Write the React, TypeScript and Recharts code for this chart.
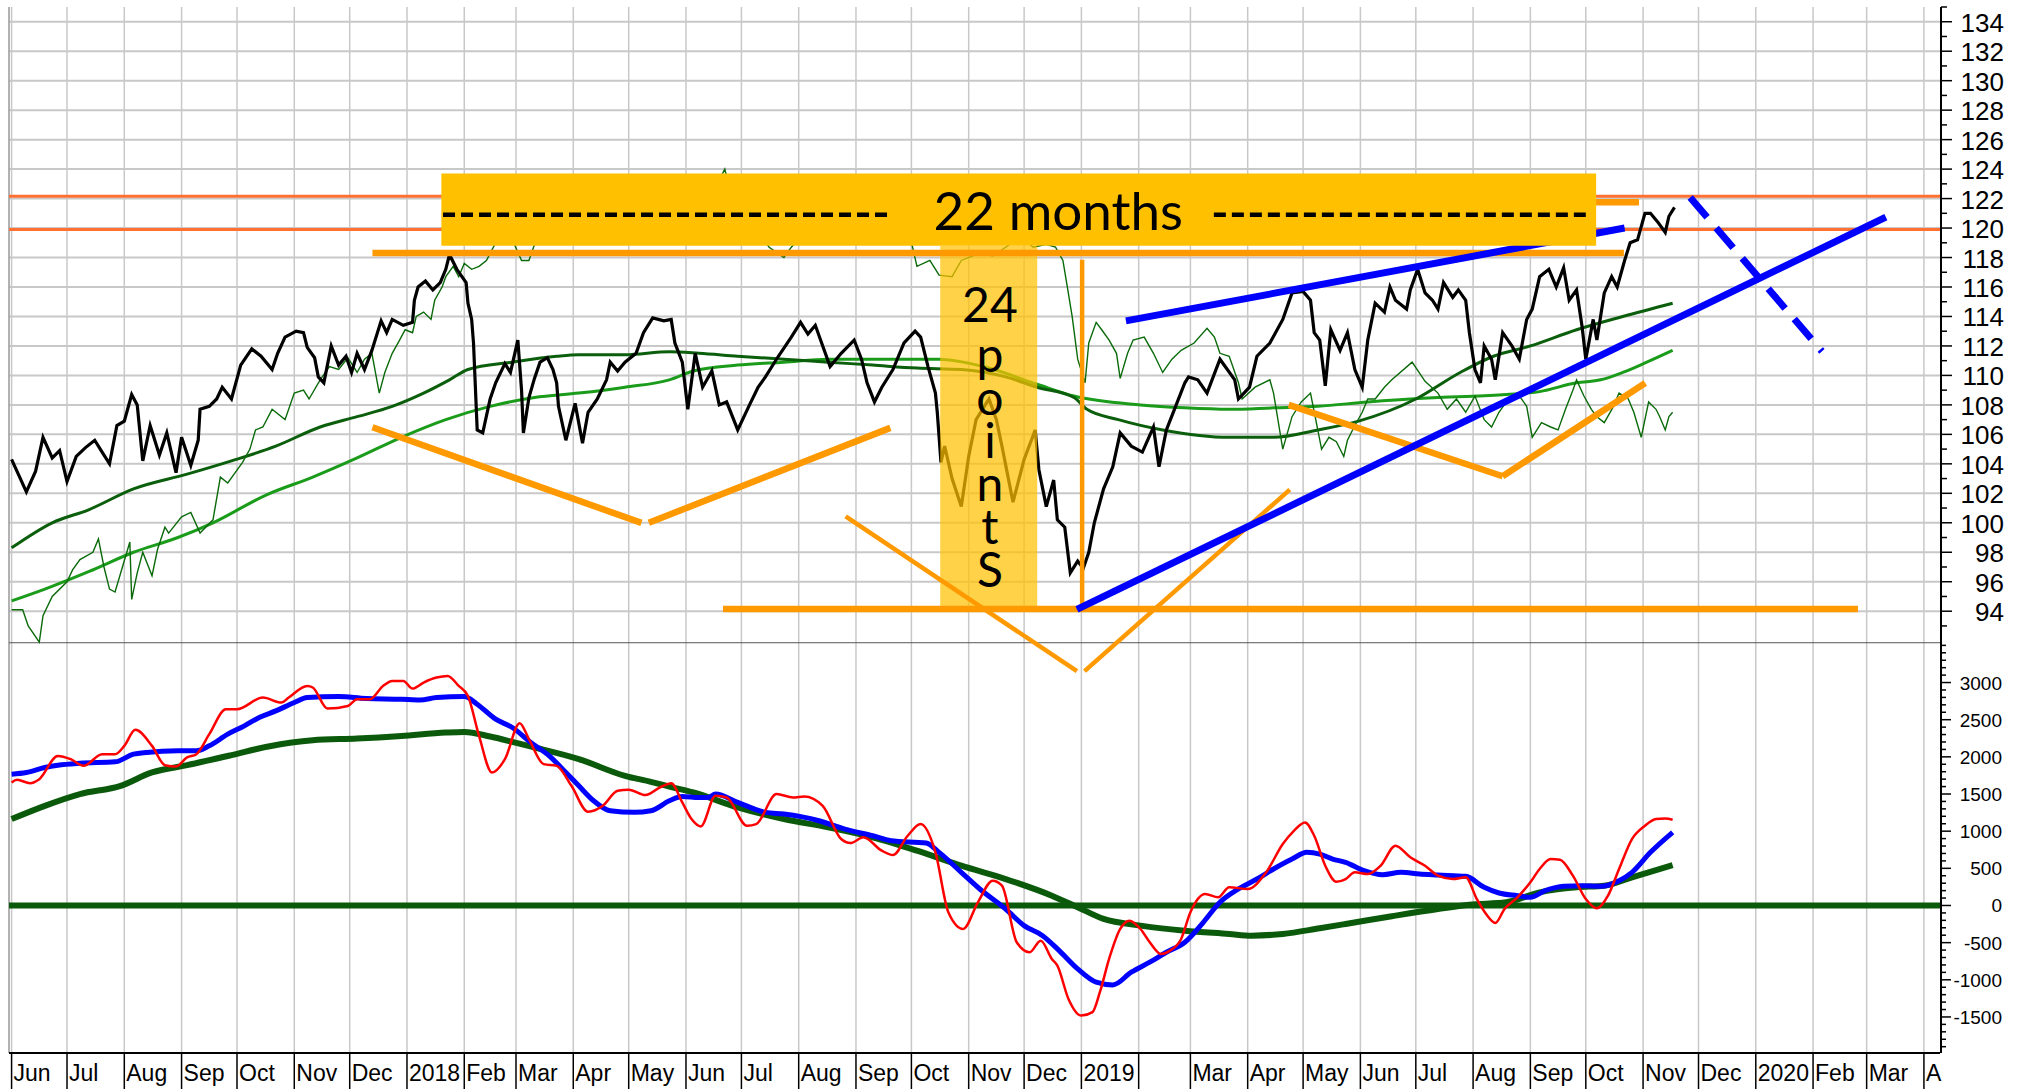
import { ComposedChart, Line, XAxis, YAxis, ReferenceLine, ReferenceArea, ReferenceDot } from 'recharts'

// x values are calendar days counted from 1 Jun 2017
const START = Date.UTC(2017, 5, 1)
const dayOf = (y: number, m: number) => (Date.UTC(y, m, 1) - START) / 86400000

const MONTH_LABELS = [
  'Jun', 'Jul', 'Aug', 'Sep', 'Oct', 'Nov', 'Dec',
  '2018', 'Feb', 'Mar', 'Apr', 'May', 'Jun', 'Jul', 'Aug', 'Sep', 'Oct', 'Nov', 'Dec',
  '2019', '', 'Mar', 'Apr', 'May', 'Jun', 'Jul', 'Aug', 'Sep', 'Oct', 'Nov', 'Dec',
  '2020', 'Feb', 'Mar', 'A',
]
const MONTH_TICKS = MONTH_LABELS.map((_, i) => dayOf(2017, 5 + i))
const WEEK_TICKS: number[] = []
for (let d = 4; d < 1043; d += 7) WEEK_TICKS.push(d)

const PRICE_TICKS: number[] = []
for (let v = 93; v <= 135; v++) PRICE_TICKS.push(v)
const OSC_TICKS: number[] = []
for (let v = -1900; v <= 3500; v += 100) OSC_TICKS.push(v)

const X_DOMAIN: [number, number] = [-1.4, 1043.7]
const PRICE_DOMAIN: [number, number] = [64.02, 135]
const OSC_DOMAIN: [number, number] = [-1985, 12090]

// daily closes (black)
const priceClose: [number, number][] = [
  [0, 104.3], [4, 103.2], [8, 102.1], [13, 103.5], [17, 105.8], [22, 104.4], [26, 104.9], [30, 102.8], [35, 104.5], [40, 105.1],
  [45, 105.6], [49, 104.8], [53, 104.0], [57, 106.6], [61, 106.9], [65, 108.7], [68, 108.0], [71, 104.2], [75, 106.6], [80, 104.6],
  [84, 106.1], [89, 103.4], [92, 105.8], [97, 103.9], [101, 105.6], [102, 107.7], [107, 107.9], [111, 108.4], [114, 109.2], [119, 108.4],
  [124, 110.7], [130, 111.8], [135, 111.3], [141, 110.4], [144, 111.5], [148, 112.6], [154, 113.0], [158, 112.9], [160, 111.9], [164, 111.2],
  [166, 109.9], [169, 109.5], [173, 112.0], [177, 110.7], [181, 111.3], [184, 110.2], [187, 111.5], [191, 110.4], [195, 111.7], [200, 113.7],
  [203, 112.9], [206, 113.8], [212, 113.4], [217, 113.6], [218, 115.1], [220, 116.0], [224, 116.4], [228, 115.8], [232, 116.3], [235, 117.2],
  [237, 118.2], [241, 117.2], [246, 116.3], [247, 114.9], [249, 113.8], [250, 112.2], [252, 106.3], [255, 106.1], [259, 108.4], [262, 109.5],
  [267, 110.8], [270, 110.2], [274, 112.4], [276, 109.0], [277, 106.1], [280, 108.5], [283, 109.8], [286, 110.9], [290, 111.2], [293, 110.4],
  [295, 109.5], [296, 107.9], [300, 105.6], [305, 108.1], [309, 105.4], [312, 107.5], [317, 108.4], [322, 109.7], [324, 110.9], [328, 110.3],
  [332, 110.9], [338, 111.5], [342, 112.9], [347, 113.9], [353, 113.7], [357, 113.8], [359, 112.2], [363, 110.9], [366, 107.7], [370, 111.5],
  [374, 109.2], [379, 110.3], [383, 108.0], [387, 108.2], [393, 106.3], [399, 107.9], [404, 109.2], [408, 109.9], [415, 111.3], [422, 112.6],
  [427, 113.6], [431, 112.8], [435, 113.4], [439, 112.0], [443, 110.6], [449, 111.5], [456, 112.4], [460, 111.1], [463, 109.5], [467, 108.2],
  [471, 109.2], [477, 110.4], [483, 112.2], [489, 113.0], [492, 112.6], [496, 110.6], [500, 108.8], [501, 107.5], [503, 104.1], [505, 105.2],
  [509, 103.0], [514, 101.1], [518, 104.5], [522, 107.0], [529, 108.4], [533, 107.0], [536, 105.2], [542, 101.4], [548, 104.3], [554, 106.3],
  [556, 103.6], [560, 101.1], [564, 102.9], [566, 100.2], [570, 99.7], [573, 96.6], [577, 97.4], [580, 96.9], [583, 98.0], [586, 100.0],
  [591, 102.3], [596, 103.8], [600, 106.1], [606, 105.2], [612, 104.8], [618, 106.5], [621, 103.8], [625, 106.3], [630, 107.9], [635, 109.5],
  [637, 109.9], [642, 109.7], [647, 108.8], [654, 111.1], [662, 109.7], [664, 108.4], [670, 109.2], [674, 111.3], [681, 112.2], [688, 113.8],
  [693, 115.6], [699, 115.7], [703, 115.1], [705, 112.9], [708, 112.4], [711, 109.3], [714, 113.1], [719, 111.7], [723, 112.9], [727, 110.4],
  [731, 109.2], [734, 112.4], [738, 114.9], [743, 114.3], [746, 116.0], [749, 115.1], [755, 114.5], [757, 115.8], [761, 117.2], [765, 115.6],
  [769, 115.1], [772, 114.5], [775, 116.3], [780, 115.3], [783, 115.8], [787, 115.1], [789, 112.9], [792, 110.4], [795, 109.5], [797, 112.0],
  [801, 111.1], [803, 109.7], [807, 112.9], [812, 112.0], [816, 111.1], [820, 113.8], [823, 114.5], [827, 116.7], [832, 117.2], [836, 116.0],
  [840, 117.3], [843, 115.1], [847, 115.8], [850, 113.3], [852, 111.1], [856, 113.8], [858, 112.4], [862, 115.6], [866, 116.7], [869, 116.0],
  [873, 117.8], [876, 119.0], [880, 119.2], [884, 121.0], [887, 121.0], [891, 120.4], [895, 119.7], [897, 120.8], [900, 121.4],
]

// comparison line (thin green)
const comparison: [number, number][] = [
  [0, 94.1], [6, 94.1], [9, 93.0], [15, 91.9], [17, 93.7], [22, 95.0], [30, 96.0], [33, 96.8], [37, 97.5], [44, 98.0],
  [47, 98.9], [50, 97.0], [53, 95.5], [56, 95.3], [64, 98.7], [65, 94.8], [68, 96.6], [71, 98.0], [76, 96.4], [79, 98.2],
  [83, 99.7], [85, 99.3], [92, 100.4], [97, 100.7], [102, 99.3], [109, 100.2], [113, 103.1], [117, 102.7], [121, 103.4], [125, 104.1],
  [129, 105.0], [132, 106.3], [136, 106.5], [141, 107.7], [148, 107.0], [153, 108.8], [158, 109.0], [161, 108.4], [167, 109.7], [172, 110.6],
  [177, 110.4], [182, 111.2], [187, 110.2], [191, 111.1], [195, 111.5], [199, 108.8], [202, 110.2], [206, 111.5], [210, 112.4], [213, 113.1],
  [217, 112.9], [219, 114.0], [223, 114.3], [227, 113.8], [229, 115.1], [233, 116.0], [235, 116.7], [239, 117.4], [242, 116.7], [245, 117.6],
  [249, 117.2], [253, 117.4], [257, 117.8], [262, 119.0], [265, 120.2], [270, 119.5], [276, 117.8], [280, 117.8], [285, 119.6], [295, 120.8],
  [305, 119.9], [315, 121.2], [325, 120.4], [335, 121.8], [345, 121.0], [355, 122.3], [365, 121.5], [375, 122.6], [382, 123.0], [386, 124.0],
  [390, 122.0], [398, 120.5], [405, 119.6], [410, 118.7], [418, 118.0], [422, 118.7], [430, 119.8], [436, 119.4], [442, 118.9], [450, 120.1],
  [460, 120.8], [470, 121.3], [480, 120.4], [486, 119.6], [490, 117.4], [497, 117.8], [502, 116.8], [509, 116.7], [514, 117.8], [524, 118.3],
  [531, 118.1], [538, 118.7], [546, 119.4], [553, 118.7], [560, 118.9], [565, 118.7], [569, 117.8], [571, 116.3], [574, 114.0], [577, 111.1],
  [581, 109.5], [583, 112.2], [587, 113.6], [590, 113.1], [594, 112.4], [598, 111.5], [600, 109.8], [604, 111.5], [607, 112.4], [613, 112.6],
  [618, 111.5], [623, 110.2], [628, 111.1], [633, 111.7], [640, 112.2], [647, 113.2], [651, 112.6], [654, 111.5], [659, 111.3], [664, 109.5],
  [666, 108.4], [673, 109.2], [681, 109.7], [683, 108.8], [688, 105.0], [693, 107.2], [698, 108.2], [703, 108.8], [709, 105.0], [713, 105.8],
  [717, 105.5], [721, 104.5], [723, 105.6], [727, 106.6], [731, 107.5], [734, 108.4], [738, 108.4], [743, 109.2], [747, 109.7], [758, 110.9],
  [765, 109.6], [772, 108.8], [777, 107.7], [782, 108.4], [787, 107.5], [792, 108.6], [797, 107.0], [801, 106.5], [805, 107.5], [809, 108.2],
  [815, 108.8], [820, 107.9], [823, 105.8], [828, 106.8], [833, 106.5], [837, 106.3], [841, 107.7], [845, 109.0], [847, 109.7], [851, 108.6],
  [855, 107.7], [858, 107.2], [862, 106.8], [867, 107.9], [870, 108.8], [875, 108.4], [878, 107.5], [882, 105.8], [886, 108.2], [890, 107.7],
  [892, 107.2], [895, 106.3], [897, 107.2], [899, 107.5],
]

// long moving average (dark green)
const maLong: [number, number][] = [
  [0, 98.3], [22, 100.0], [42, 100.9], [66, 102.3], [95, 103.3], [119, 104.2], [143, 105.2], [167, 106.5], [187, 107.2], [206, 107.9],
  [223, 108.8], [237, 109.7], [247, 110.4], [271, 110.9], [295, 111.3], [307, 111.4], [332, 111.4], [356, 111.6], [372, 111.5], [393, 111.3],
  [418, 111.1], [442, 110.9], [466, 110.7], [490, 110.5], [514, 110.4], [538, 109.9], [555, 109.2], [575, 108.5], [582, 107.7], [599, 107.0],
  [623, 106.3], [659, 105.8], [683, 105.8], [707, 106.3], [729, 106.9], [760, 108.4], [784, 110.2], [802, 111.3], [822, 112.0], [847, 113.1],
  [872, 114.0], [899, 114.9],
]

// shorter moving average (green)
const maShort: [number, number][] = [
  [0, 94.7], [18, 95.5], [42, 96.7], [66, 98.0], [90, 99.0], [109, 100.0], [138, 101.9], [163, 103.1], [187, 104.4], [211, 105.8],
  [235, 107.0], [259, 107.9], [283, 108.5], [307, 108.8], [332, 109.2], [356, 109.7], [369, 110.3], [393, 110.7], [418, 110.9], [442, 111.1],
  [466, 111.1], [490, 111.1], [502, 111.1], [526, 110.6], [555, 109.4], [575, 108.6], [611, 108.0], [635, 107.8], [659, 107.7], [683, 107.8],
  [707, 107.9], [734, 108.2], [772, 108.5], [809, 108.7], [827, 108.9], [847, 109.5], [860, 109.7], [872, 110.2], [885, 110.9], [899, 111.7],
]

// lower panel: fast (red), slow (blue), signal (dark green)
const oscFast: [number, number][] = [
  [0, 1656], [3, 1691], [10, 1646], [15, 1700], [25, 2013], [32, 1969], [39, 1879], [49, 2036], [56, 2036], [61, 2148],
  [67, 2363], [76, 2148], [83, 1888], [89, 1871], [95, 1992], [100, 2036], [107, 2305], [116, 2641], [122, 2641], [136, 2798],
  [146, 2731], [150, 2798], [160, 2954], [163, 2933], [171, 2650], [182, 2685], [187, 2776], [194, 2776], [201, 2954], [206, 3022],
  [212, 3022], [217, 2919], [223, 3000], [230, 3067], [236, 3089], [242, 2954], [247, 2820], [253, 2282], [260, 1790], [267, 1969],
  [275, 2453], [280, 2238], [288, 1902], [295, 1879], [303, 1610], [312, 1261], [320, 1341], [328, 1543], [334, 1557], [343, 1485],
  [351, 1589], [357, 1646], [363, 1387], [368, 1163], [373, 1064], [381, 1476], [387, 1454], [398, 1073], [403, 1095], [414, 1499],
  [423, 1454], [429, 1468], [439, 1341], [449, 894], [454, 840], [461, 917], [471, 737], [477, 679], [485, 938], [492, 1095],
  [500, 715], [507, -91], [515, -316], [523, 43], [531, 333], [536, 266], [544, -495], [551, -629], [557, -473], [563, -719],
  [566, -809], [572, -1257], [579, -1481], [585, -1435], [589, -1167], [594, -719], [600, -316], [605, -204], [611, -316], [616, -495],
  [622, -652], [627, -607], [633, -450], [638, -91], [646, 155], [653, 110], [659, 245], [669, 222], [679, 446], [688, 827],
  [694, 1005], [700, 1118], [705, 938], [711, 535], [717, 320], [722, 356], [727, 446], [734, 423], [741, 535], [749, 804],
  [757, 648], [765, 535], [772, 401], [780, 356], [787, 379], [793, 87], [798, -114], [803, -235], [808, -47], [815, 110],
  [822, 312], [827, 491], [833, 625], [838, 616], [845, 401], [852, 87], [858, -38], [864, 132], [870, 491], [877, 894],
  [884, 1073], [890, 1163], [895, 1172], [899, 1153],
]

const oscSlow: [number, number][] = [
  [0, 1767], [8, 1790], [18, 1857], [25, 1888], [37, 1915], [56, 1933], [66, 2036], [73, 2059], [90, 2081], [100, 2081],
  [107, 2148], [117, 2305], [126, 2417], [134, 2530], [143, 2618], [153, 2731], [160, 2798], [177, 2812], [192, 2785], [211, 2776],
  [221, 2766], [230, 2798], [245, 2812], [252, 2708], [262, 2507], [271, 2395], [281, 2194], [291, 2013], [300, 1790], [307, 1610],
  [315, 1409], [324, 1274], [337, 1253], [346, 1274], [356, 1409], [363, 1468], [372, 1454], [377, 1454], [381, 1499], [393, 1387],
  [408, 1253], [418, 1230], [437, 1140], [451, 1028], [466, 938], [476, 871], [495, 840], [502, 715], [514, 446], [524, 222],
  [538, -47], [548, -271], [558, -406], [567, -607], [577, -853], [587, -1032], [596, -1069], [606, -898], [616, -763], [625, -629],
  [635, -495], [645, -226], [654, 43], [664, 222], [674, 356], [683, 491], [693, 625], [701, 715], [708, 692], [715, 625],
  [722, 581], [732, 468], [742, 414], [752, 446], [762, 423], [772, 410], [787, 392], [797, 245], [805, 168], [815, 132],
  [822, 110], [830, 199], [840, 258], [850, 266], [860, 258], [870, 333], [877, 446], [887, 715], [899, 984],
]

const oscSignal: [number, number][] = [
  [0, 1163], [18, 1341], [37, 1499], [59, 1610], [76, 1790], [95, 1888], [119, 2023], [139, 2140], [163, 2224], [187, 2247],
  [211, 2282], [235, 2328], [245, 2336], [259, 2274], [271, 2202], [283, 2126], [307, 1969], [332, 1745], [346, 1664], [356, 1600],
  [369, 1521], [393, 1320], [418, 1163], [442, 1051], [466, 917], [490, 737], [514, 535], [538, 356], [563, 132], [577, -24],
  [591, -181], [611, -271], [635, -339], [659, -383], [671, -406], [688, -383], [708, -306], [722, -249], [747, -145], [772, -47],
  [789, 11], [809, 43], [827, 177], [847, 245], [862, 266], [877, 379], [899, 544],
]

// annotation levels and drawn lines (price units)
const resistanceLevels = [122.15, 119.9]
const orangeLines: [[number, number], [number, number]][] = [
  [[195.3, 118.3], [872.6, 118.3]],
  [[840, 121.75], [880.8, 121.75]],
  [[385, 94.15], [999.3, 94.15]],
  [[195.3, 106.48], [340.9, 99.99]],
  [[344.9, 100.0], [475.6, 106.44]],
  [[691.2, 108.0], [807, 103.16]],
  [[807, 103.16], [884.2, 109.49]],
]
const orangeThin: [[number, number], [number, number]][] = [
  [[579.4, 117.85], [579.4, 94.3]],
  [[451.4, 100.44], [576.6, 89.93]],
  [[580.7, 89.93], [691.8, 102.25]],
]
const blueLines: [[number, number], [number, number]][] = [
  [[603.1, 113.7], [873, 120.0]],
  [[576.6, 94.12], [1014.4, 120.74]],
]
const blueDashed: [[number, number], [number, number]] = [[908.5, 122.07], [979.8, 111.63]]
const monthsBox = { x1: 232.6, x2: 857.6, y1: 118.8, y2: 123.7 }
const monthsDashes: [[number, number], [number, number]][] = [
  [[233.5, 120.9], [474.5, 120.9]],
  [[650.7, 120.9], [852, 120.9]],
]
const monthsLabel = { x: 566.5, y: 119.88, text: '22 months' }
const pointsBand = { x1: 502.6, x2: 555.1, y1: 94.3, y2: 118.8 }
const pointsNumber = { x: 529.5, y: 113.64, text: '24' }
const pointsWord = { x: 529.5, y: 113.4, text: 'pointS' }

const toRows = (arr: [number, number][]) => arr.map(([d, v]) => ({ d, v }))

const AXIS_FONT = "'Liberation Sans', Arial, sans-serif"
const NOTE_FONT = "Lato, 'Noto Sans', sans-serif"

function MonthTick({ x, y, payload }: any) {
  const idx = MONTH_TICKS.indexOf(payload.value)
  return (
    <g>
      <line x1={x} x2={x} y1={y} y2={y + 36} stroke="#000" strokeWidth={1.5} />
      <text x={x + 2} y={y + 28} fontSize={23} fontFamily={AXIS_FONT} fill="#000">
        {MONTH_LABELS[idx]}
      </text>
    </g>
  )
}

function PriceTick({ x, y, payload }: any) {
  const v = payload.value
  const major = v % 2 === 0 && v >= 94 && v <= 134
  return (
    <g>
      <line x1={x} x2={x + (major ? 11 : 6)} y1={y} y2={y} stroke="#000" strokeWidth={1.5} />
      {major && (
        <text x={x + 63} y={y + 10} textAnchor="end" fontSize={26} fontFamily={AXIS_FONT} fill="#000">
          {v}
        </text>
      )}
    </g>
  )
}

function OscTick({ x, y, payload }: any) {
  const v = payload.value
  const major = v % 500 === 0 && v >= -1500 && v <= 3000
  return (
    <g>
      <line x1={x} x2={x + (major ? 11 : 6)} y1={y} y2={y} stroke="#000" strokeWidth={1.5} />
      {major && (
        <text x={x + 62} y={y + 7} textAnchor="end" fontSize={19} fontFamily={AXIS_FONT} fill="#000">
          {v}
        </text>
      )}
    </g>
  )
}

const seg = (s: [[number, number], [number, number]]) => [
  { x: s[0][0], y: s[0][1] },
  { x: s[1][0], y: s[1][1] },
]

export default function App() {
  return (
    <div style={{ position: 'absolute', left: 0, top: 0, width: 2026, height: 1089, background: '#fff' }}>
      <ComposedChart width={2026} height={1089} margin={{ top: 7, right: 84, bottom: 34, left: 9 }}>
        {/* grid */}
        {MONTH_TICKS.map((d) => (
          <ReferenceLine key={`v${d}`} x={d} yAxisId="p" stroke="#c8c8c8" strokeWidth={1.5} zIndex={-50} />
        ))}
        {PRICE_TICKS.filter((v) => v % 2 === 0 && v >= 94).map((v) => (
          <ReferenceLine key={`h${v}`} y={v} yAxisId="p" stroke="#c8c8c8" strokeWidth={2} zIndex={-50} />
        ))}
        <ReferenceLine x={X_DOMAIN[0]} yAxisId="p" stroke="#999" strokeWidth={1.5} zIndex={-40} />
        <ReferenceLine y={91.86} yAxisId="p" stroke="#555" strokeWidth={1} zIndex={-40} />

        {resistanceLevels.map((v) => (
          <ReferenceLine key={`r${v}`} y={v} yAxisId="p" stroke="#ff7032" strokeWidth={3} zIndex={50} />
        ))}
        <ReferenceLine y={0} yAxisId="i" stroke="#0b5a0b" strokeWidth={6} zIndex={90} />

        {/* price panel series */}
        <Line data={toRows(maShort)} dataKey="v" yAxisId="p" type="monotone" stroke="#1a9c1a" strokeWidth={3} dot={false} isAnimationActive={false} zIndex={100} />
        <Line data={toRows(maLong)} dataKey="v" yAxisId="p" type="monotone" stroke="#0b5e0b" strokeWidth={3} dot={false} isAnimationActive={false} zIndex={101} />
        <Line data={toRows(comparison)} dataKey="v" yAxisId="p" type="linear" stroke="#0a6a0a" strokeWidth={1.4} dot={false} isAnimationActive={false} zIndex={102} />
        <Line data={toRows(priceClose)} dataKey="v" yAxisId="p" type="linear" stroke="#000" strokeWidth={3.2} dot={false} isAnimationActive={false} zIndex={103} />

        {/* lower panel series */}
        <Line data={toRows(oscSignal)} dataKey="v" yAxisId="i" type="monotone" stroke="#0b5a0b" strokeWidth={6} dot={false} isAnimationActive={false} zIndex={104} />
        <Line data={toRows(oscSlow)} dataKey="v" yAxisId="i" type="monotone" stroke="#0000ff" strokeWidth={5} dot={false} isAnimationActive={false} zIndex={105} />
        <Line data={toRows(oscFast)} dataKey="v" yAxisId="i" type="monotone" stroke="#ff0000" strokeWidth={2.5} dot={false} isAnimationActive={false} zIndex={106} />

        {/* annotations */}
        <ReferenceArea {...pointsBand} yAxisId="p" fill="#ffc000" fillOpacity={0.72} stroke="none" zIndex={200} />
        {orangeLines.map((s, i) => (
          <ReferenceLine key={`o${i}`} segment={seg(s)} yAxisId="p" stroke="#ff9900" strokeWidth={6.5} zIndex={300} />
        ))}
        {orangeThin.map((s, i) => (
          <ReferenceLine key={`ot${i}`} segment={seg(s)} yAxisId="p" stroke="#ff9900" strokeWidth={4.5} zIndex={300} />
        ))}
        {blueLines.map((s, i) => (
          <ReferenceLine key={`b${i}`} segment={seg(s)} yAxisId="p" stroke="#0000ff" strokeWidth={7} zIndex={310} />
        ))}
        <ReferenceLine segment={seg(blueDashed)} yAxisId="p" stroke="#0000ff" strokeWidth={7} strokeDasharray="26 14" zIndex={310} />
        <ReferenceArea {...monthsBox} yAxisId="p" fill="#ffc000" fillOpacity={1} stroke="none" zIndex={400} />
        {monthsDashes.map((s, i) => (
          <ReferenceLine key={`d${i}`} segment={seg(s)} yAxisId="p" stroke="#000" strokeWidth={4.5} strokeDasharray="12 6" zIndex={450} />
        ))}
        <ReferenceDot
          x={monthsLabel.x}
          y={monthsLabel.y}
          yAxisId="p"
          r={0}
          zIndex={460}
          shape={(p: any) => (
            <text x={p.cx} y={p.cy} textAnchor="middle" fontSize={53} fontFamily={NOTE_FONT} fill="#000">
              {monthsLabel.text}
            </text>
          )}
        />
        <ReferenceDot
          x={pointsNumber.x}
          y={pointsNumber.y}
          yAxisId="p"
          r={0}
          zIndex={460}
          shape={(p: any) => (
            <text x={p.cx} y={p.cy} textAnchor="middle" fontSize={48} fontFamily={NOTE_FONT} fill="#000">
              {pointsNumber.text}
            </text>
          )}
        />
        <ReferenceDot
          x={pointsWord.x}
          y={pointsWord.y}
          yAxisId="p"
          r={0}
          zIndex={460}
          shape={(p: any) => (
            <text
              x={p.cx}
              y={p.cy}
              fontSize={48}
              fontFamily={NOTE_FONT}
              fill="#000"
              letterSpacing={-14}
              style={{ writingMode: 'vertical-rl', textOrientation: 'upright' } as any}
            >
              {pointsWord.text}
            </text>
          )}
        />

        {/* axes */}
        <XAxis
          type="number"
          dataKey="d"
          domain={X_DOMAIN}
          allowDataOverflow
          ticks={MONTH_TICKS}
          interval={0}
          tick={(p: any) => <MonthTick {...p} />}
          tickLine={false}
          tickSize={0}
          tickMargin={0}
          height={1}
          axisLine={{ stroke: '#000', strokeWidth: 2 }}
        />
        <XAxis
          xAxisId="w"
          type="number"
          dataKey="d"
          domain={X_DOMAIN}
          allowDataOverflow
          ticks={WEEK_TICKS}
          interval={0}
          tick={false}
          tickSize={8}
          tickLine={{ stroke: '#000', strokeWidth: 1.5 }}
          axisLine={false}
          height={1}
        />
        <YAxis
          yAxisId="p"
          orientation="right"
          type="number"
          domain={PRICE_DOMAIN}
          allowDataOverflow
          ticks={PRICE_TICKS}
          interval={0}
          tick={(p: any) => <PriceTick {...p} />}
          tickLine={false}
          tickSize={0}
          tickMargin={0}
          width={1}
          axisLine={{ stroke: '#000', strokeWidth: 2 }}
        />
        <YAxis
          yAxisId="i"
          orientation="right"
          type="number"
          domain={OSC_DOMAIN}
          allowDataOverflow
          ticks={OSC_TICKS}
          interval={0}
          tick={(p: any) => <OscTick {...p} />}
          tickLine={false}
          tickSize={0}
          tickMargin={0}
          width={1}
          axisLine={false}
        />
      </ComposedChart>
    </div>
  )
}
